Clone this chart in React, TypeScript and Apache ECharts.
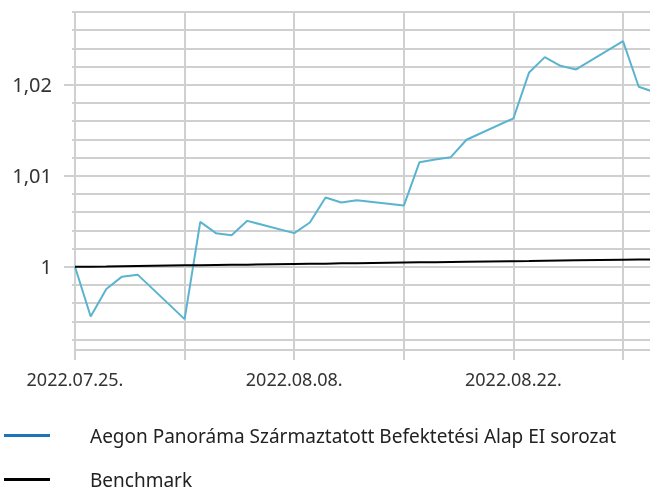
import React, { useEffect, useRef } from "react";
import * as echarts from "echarts";

const dates = [
  "2022-07-25", "2022-07-26", "2022-07-27", "2022-07-28", "2022-07-29",
  "2022-08-01", "2022-08-02", "2022-08-03", "2022-08-04", "2022-08-05",
  "2022-08-08", "2022-08-09", "2022-08-10", "2022-08-11", "2022-08-12",
  "2022-08-15", "2022-08-16", "2022-08-17", "2022-08-18", "2022-08-19",
  "2022-08-22", "2022-08-23", "2022-08-24", "2022-08-25", "2022-08-26",
  "2022-08-29", "2022-08-30", "2022-08-31",
];

const fundValues = [
  1.0, 0.99454, 0.99757, 0.99892, 0.99914,
  0.99425, 1.00494, 1.0037, 1.00348, 1.00505,
  1.0037, 1.00487, 1.00761, 1.00706, 1.00731,
  1.00673, 1.0115, 1.0118, 1.01205, 1.01396,
  1.01632, 1.02136, 1.02304, 1.02209, 1.02169,
  1.02479, 1.01979, 1.01919,
];

const benchmarkValues = [
  1.0, 1.00002, 1.00004, 1.00007, 1.00009,
  1.00016, 1.00018, 1.0002, 1.00022, 1.00024,
  1.00031, 1.00033, 1.00035, 1.00038, 1.0004,
  1.00047, 1.00049, 1.00051, 1.00053, 1.00055,
  1.00062, 1.00064, 1.00067, 1.00069, 1.00071,
  1.00078, 1.0008, 1.00082,
];

const seriesNames = [
  "Aegon Panoráma Származtatott Befektetési Alap EI sorozat",
  "Benchmark",
];

const weekTicks = ["2022-07-25", "2022-08-01", "2022-08-08", "2022-08-15", "2022-08-22", "2022-08-29"];
const xLabelDates = ["2022-07-25", "2022-08-08", "2022-08-22"];
const yGridValues = [
  0.992, 0.994, 0.996, 0.998, 1.0, 1.002, 1.004, 1.006, 1.008, 1.01,
  1.012, 1.014, 1.016, 1.018, 1.02, 1.022, 1.024, 1.026, 1.028,
];
const yLabelValues = [1.0, 1.01, 1.02];

const FONT = "Noto Sans";
const GRID_COLOR = "#d0d0d0";
const DAY = 86400000;

const ts = (d: string) => {
  const [y, m, day] = d.split("-").map(Number);
  return Date.UTC(y, m - 1, day);
};

export default function App() {
  const ref = useRef<HTMLDivElement>(null);
  useEffect(() => {
    if (!ref.current) return;
    const chart = echarts.init(ref.current, null, { renderer: "svg" });
    const fundData = dates.map((d, i) => [ts(d), fundValues[i]]);
    const benchData = dates.map((d, i) => [ts(d), benchmarkValues[i]]);
    const pad = (n: number) => (n < 10 ? "0" + n : "" + n);
    const legendText = { fontFamily: FONT, fontSize: 19, color: "#222", padding: [0, 0, 0, 35] };
    const legendBase = {
      orient: "vertical",
      left: 4,
      padding: 0,
      itemWidth: 46,
      itemHeight: 3,
      icon: "rect",
      selectedMode: false,
      textStyle: legendText,
    };
    chart.setOption({
      animation: false,
      textStyle: { fontFamily: FONT },
      grid: { left: 75, top: 12, right: 0, bottom: 139, containLabel: false },
      legend: [
        { ...legendBase, top: 426, data: [{ name: seriesNames[0], itemStyle: { color: "#1a75bb" } }] },
        { ...legendBase, top: 470, data: [{ name: seriesNames[1], itemStyle: { color: "#000" } }] },
      ],
      xAxis: {
        type: "value",
        min: ts("2022-07-25"),
        max: ts("2022-08-30") + 0.72 * DAY,
        axisLine: { show: true, lineStyle: { color: GRID_COLOR, width: 2 } },
        axisTick: {
          show: true,
          length: 10,
          lineStyle: { color: GRID_COLOR, width: 2 },
          customValues: weekTicks.map(ts),
        },
        splitLine: { show: true, lineStyle: { color: GRID_COLOR, width: 2 } },
        axisLabel: {
          customValues: xLabelDates.map(ts),
          margin: 20,
          fontSize: 18,
          fontFamily: FONT,
          color: "#333",
          formatter: (v: number) => {
            const d = new Date(v);
            return d.getUTCFullYear() + "." + pad(d.getUTCMonth() + 1) + "." + pad(d.getUTCDate()) + ".";
          },
        },
      },
      yAxis: [
        {
          type: "value",
          min: 0.99086,
          max: 1.028,
          axisLine: { show: true, lineStyle: { color: GRID_COLOR, width: 2 } },
          axisTick: {
            show: true,
            length: 3,
            lineStyle: { color: GRID_COLOR, width: 2 },
            customValues: yGridValues,
          },
          splitLine: { show: true, lineStyle: { color: GRID_COLOR, width: 2 } },
          axisLabel: {
            customValues: yLabelValues,
            margin: 23,
            fontSize: 20,
            fontFamily: FONT,
            color: "#333",
            formatter: (v: number) => {
              const r = Math.round(v * 100) / 100;
              return r === 1 ? "1" : r.toFixed(2).replace(".", ",");
            },
          },
        },
        {
          type: "value",
          position: "left",
          min: 0.99086,
          max: 1.028,
          axisLine: { show: false },
          axisTick: {
            show: true,
            length: 11,
            lineStyle: { color: GRID_COLOR, width: 2 },
            customValues: yLabelValues,
          },
          splitLine: { show: false },
          axisLabel: { show: false },
        },
      ],
      series: [
        {
          name: seriesNames[0],
          type: "line",
          data: fundData,
          showSymbol: false,
          symbol: "none",
          lineStyle: { color: "#5ab4cf", width: 2 },
          itemStyle: { color: "#5ab4cf" },
          z: 3,
        },
        {
          name: seriesNames[1],
          type: "line",
          data: benchData,
          showSymbol: false,
          symbol: "none",
          lineStyle: { color: "#000", width: 2 },
          itemStyle: { color: "#000" },
          z: 4,
        },
      ],
    });
    return () => chart.dispose();
  }, []);
  return <div ref={ref} style={{ width: 650, height: 489, position: "fixed", left: 0, top: 0 }} />;
}
